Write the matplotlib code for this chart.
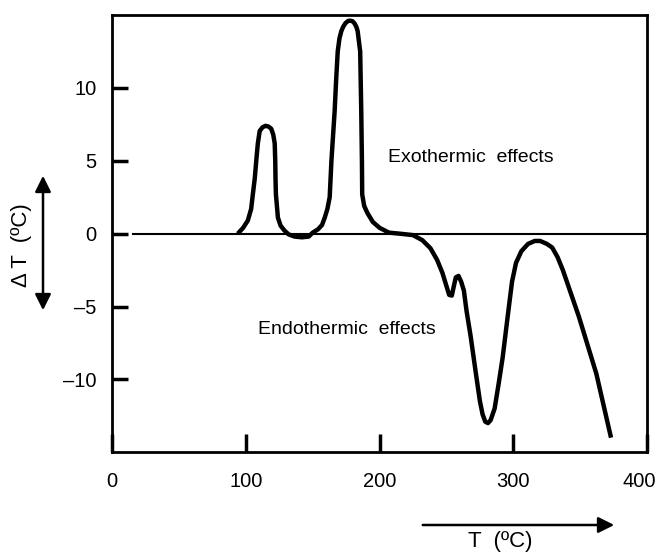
import matplotlib
matplotlib.use("Agg")
import matplotlib.pyplot as plt
from matplotlib.patches import FancyArrowPatch
from matplotlib.transforms import ScaledTranslation

# DTA curve
temp = [94, 98, 101.5, 104, 105, 106.7, 108, 109, 110.4, 112.5, 114.7, 117, 119, 120.5,
        121.6, 122, 122.2, 122.5, 124, 126, 129, 132, 136.5, 142, 147, 150, 154,
        157, 159, 161, 162.7, 164, 165.2, 166.4, 167.5, 168.7, 170, 171.4, 172.8,
        174.5, 176.5, 178, 179.8, 181.5, 182.8, 183.6, 185.5, 186.3, 186.8, 187,
        188.5, 191, 195, 200, 207, 215, 225,
        232, 238, 243, 247, 250, 252, 254, 255.5, 257, 259, 261, 263, 265, 268,
        272, 275, 277, 279, 281, 283, 286, 289, 292, 296, 299, 302, 306, 311, 316,
        320, 325, 329, 333, 337, 349, 362, 373]
delta_t = [0.0, 0.4, 0.9, 1.7, 2.5, 3.8, 5.2, 6.2, 7.05, 7.3, 7.4, 7.35, 7.2, 6.8,
           6.2, 5.0, 3.8, 2.7, 1.1, 0.55, 0.2, -0.05, -0.2, -0.25, -0.2, 0.07, 0.3,
           0.6, 1.1, 1.7, 2.5, 5.0, 6.7, 8.4, 10.5, 12.5, 13.4, 13.9, 14.2,
           14.45, 14.6, 14.62, 14.58, 14.4, 14.15, 13.9, 12.5, 8.4, 5.0, 2.7,
           1.9, 1.4, 0.8, 0.4, 0.07, 0.0, -0.1,
           -0.45, -1.0, -1.8, -2.7, -3.6, -4.2, -4.25, -3.6, -3.0, -2.9, -3.3, -3.9,
           -5.3, -7.0, -9.6, -11.5, -12.4, -12.9, -13.0, -12.8, -12.0, -10.3, -8.5,
           -5.5, -3.3, -2.0, -1.2, -0.7, -0.5, -0.5, -0.7, -0.95, -1.6, -2.5, -5.7,
           -9.6, -14.0]

x_ticks = [0, 100, 200, 300, 400]
y_ticks = [-10, -5, 0, 5, 10]

text_font = ["Liberation Sans", "DejaVu Sans"]
W, H = 659, 559


def px(x, y):
    # figure fraction from pixel position measured from top-left
    return x / W, 1 - y / H


fig = plt.figure(figsize=(W / 100, H / 100), dpi=100)
ax = fig.add_axes([0.170, 0.191, 0.812, 0.782])

ax.plot(temp, delta_t, color="black", linewidth=3.2,
        solid_joinstyle="round", solid_capstyle="butt")
ax.plot([15.5, 400], [0, 0], color="black", linewidth=1.5)

ax.set_xlim(0, 400)
ax.set_ylim(-15, 15)
ax.set_xticks(x_ticks)
ax.set_yticks(y_ticks)
ax.set_yticklabels([str(v).replace("-", "\u2013") for v in y_ticks])
ax.tick_params(direction="in", width=2.5, labelsize=14.5)
ax.tick_params(axis="x", length=13, pad=14)
ax.tick_params(axis="y", length=11.5, pad=11)
for lab in ax.get_xticklabels() + ax.get_yticklabels():
    lab.set_family(text_font)
# the "400" label sits a little left of its tick in the reference
last = ax.get_xticklabels()[-1]
last.set_transform(last.get_transform() + ScaledTranslation(-6 / 72, 0, fig.dpi_scale_trans))
for sp in ax.spines.values():
    sp.set_linewidth(2)

fig.text(*px(388, 157), "Exothermic  effects", fontsize=14,
         family=text_font, va="center", ha="left")
fig.text(*px(258, 329), "Endothermic  effects", fontsize=14,
         family=text_font, va="center", ha="left")

# axis labels with arrows
fig.text(*px(21, 245), "\u0394 T  (\u00baC)", rotation=90, fontsize=16,
         family=text_font, ha="center", va="center")
fig.text(*px(500, 542), "T  (\u00baC)", fontsize=16,
         family=text_font, ha="center", va="center")
fig.patches.append(FancyArrowPatch(
    px(43, 313), px(43, 173), transform=fig.transFigure,
    arrowstyle="<|-|>", color="black", lw=1.8, mutation_scale=24))
fig.patches.append(FancyArrowPatch(
    px(420, 525), px(617, 525), transform=fig.transFigure,
    arrowstyle="-|>", color="black", lw=1.8, mutation_scale=24))

fig.savefig("out.png", dpi=100)
